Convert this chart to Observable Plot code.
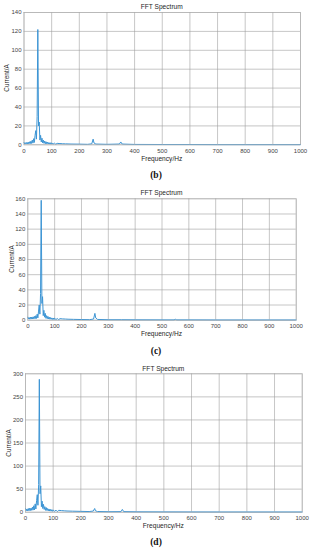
<!DOCTYPE html>
<html><head><meta charset="utf-8">
<script src="https://cdn.jsdelivr.net/npm/d3@7"></script>
<script src="https://cdn.jsdelivr.net/npm/@observablehq/plot@0.6"></script>
<style>
html,body{margin:0;padding:0;background:#fff;}
#root{position:relative;width:312px;height:550px;overflow:hidden;font-family:"Liberation Sans",Arial,sans-serif;}
.lbl{position:absolute;white-space:nowrap;color:#262626;line-height:1;}
.t{font-size:6.6px;transform:translate(-50%,-50%);}
.yl{font-size:6.4px;transform:translate(-50%,-50%) rotate(-90deg);}
.pl{font-family:"Liberation Serif","DejaVu Serif",serif;font-weight:bold;font-size:9.5px;transform:translate(-50%,-50%);color:#111;}
.panel{position:absolute;left:0;}
</style></head>
<body><div id="root"></div>
<script>
const titleText = "FFT Spectrum";
const xLabel = "Frequency/Hz";
const yLabel = "Current/A";
const panelLabels = ["(b)", "(c)", "(d)"];
const xTicks = [0,100,200,300,400,500,600,700,800,900,1000];
const yTicksB = [0,20,40,60,80,100,120,140];
const yTicksC = [0,20,40,60,80,100,120,140,160];
const yTicksD = [0,50,100,150,200,250,300];

const freqB = [0,2.5,5,7.5,10,12.5,15,17.5,20,22.5,25,27.5,30,32.5,35,37.5,40,42.5,45,47.5,50,52.5,55,57.5,60,62.5,65,67.5,70,72.5,75,77.5,80,82.5,85,87.5,90,92.5,95,97.5,100,105,110,115,120,130,140,150,170,200,230,245,250,253,260,300,345,350,355,400,500,600,700,800,900,1000];
const ampB  = [2.5,0.8,2.2,0.9,2.5,1,2.8,1,3.2,1.2,3.8,1.4,5,1.8,6.5,2.5,10,15,6,30,122,20,24,5,10,3,7,2,5,1.5,4,1.2,3.2,1,2.8,0.9,2.4,0.8,2.2,0.7,2,0.7,1.7,0.6,1.5,1.3,1.1,1,0.8,0.7,0.5,1,6,2,0.8,0.5,0.8,3,0.8,0.4,0.3,0.3,0.2,0.2,0.2,0.2];

const freqC = [0,2.5,5,7.5,10,12.5,15,17.5,20,22.5,25,27.5,30,32.5,35,37.5,40,42.5,45,47.5,50,52.5,55,57.5,60,62.5,65,67.5,70,72.5,75,77.5,80,82.5,85,87.5,90,92.5,95,97.5,100,105,110,115,120,130,140,150,170,200,230,245,250,253,260,300,350,400,500,545,550,555,600,700,800,900,1000];
const ampC  = [4,1.5,3.5,1.3,4,1.5,4.2,1.6,4.5,1.8,5,2,6,2.3,8,3,12,20,8,35,158,22,31,6,13,4,9,2.5,6,2,5,1.6,4,1.3,3.5,1.2,3,1,2.8,0.9,2.6,0.9,2.2,0.8,2,1.7,1.5,1.3,1.1,0.9,0.7,1.5,9,3,1,0.6,0.6,0.5,0.4,0.4,1.2,0.4,0.4,0.3,0.3,0.3,0.3];

const freqD = [0,2.5,5,7.5,10,12.5,15,17.5,20,22.5,25,27.5,30,32.5,35,37.5,40,42.5,45,47.5,50,52.5,55,57.5,60,62.5,65,67.5,70,72.5,75,77.5,80,82.5,85,87.5,90,92.5,95,97.5,100,105,110,115,120,130,140,150,170,200,230,245,250,253,260,300,345,350,355,400,500,600,700,800,900,1000];
const ampD  = [8,3,7,3,8,3,8.5,3.5,9,4,11,4.5,14,5,18,7,25,38,15,60,288,40,57,12,24,8,17,6,12,4,10,3.5,8,3,7,2.5,6,2.2,5.5,2,5,1.8,4.5,1.5,4,3.5,3,2.6,2.2,1.8,1.4,2.5,8,3,1.5,1,1.2,6,1.2,0.8,0.6,0.5,0.4,0.4,0.4,0.4];

const root = document.getElementById("root");
function addLabel(cls, text, x, y){
  const d = document.createElement("div");
  d.className = "lbl " + cls; d.textContent = text;
  d.style.left = x + "px"; d.style.top = y + "px";
  root.appendChild(d);
}

const panels = [
  {freq:freqB, amp:ampB, yTicks:yTicksB, ymax:140, top:0, h:168, l:23.5, r:300, pt:12, pb:144.3, titleY:6.5, xlY:158.5, ylX:7, plY:176},
  {freq:freqC, amp:ampC, yTicks:yTicksC, ymax:160, top:186, h:165, l:27.3, r:295.7, pt:198.3, pb:319.7, titleY:193, xlY:333.5, ylX:11.5, plY:352},
  {freq:freqD, amp:ampD, yTicks:yTicksD, ymax:300, top:362, h:172, l:25, r:301.7, pt:373.3, pb:511.7, titleY:368.5, xlY:525.5, ylX:8.5, plY:543}
];

panels.forEach((p, i) => {
  const data = p.freq.map((f, k) => ({f, a: p.amp[k]}));
  const chart = Plot.plot({
    width: 312, height: p.h,
    marginLeft: p.l, marginRight: 312 - p.r,
    marginTop: p.pt - p.top, marginBottom: p.h - (p.pb - p.top),
    style: {background: "transparent", fontFamily: "Liberation Sans, Arial, sans-serif", fontSize: "6px", color: "#333", overflow: "visible"},
    x: {domain: [0, 1000], ticks: xTicks, label: null},
    y: {domain: [0, p.ymax], ticks: p.yTicks, label: null},
    marks: [
      Plot.gridX(xTicks, {stroke: "#f1f1f1", strokeOpacity: 1, strokeWidth: 0.6}),
      Plot.gridY(p.yTicks, {stroke: "#f1f1f1", strokeOpacity: 1, strokeWidth: 0.6}),
      Plot.axisX({ticks: xTicks, tickFormat: d => String(d), tickSize: 0, tickPadding: 4, fill: "#444", label: null}),
      Plot.axisY({ticks: p.yTicks, tickFormat: d => String(d), tickSize: 0, tickPadding: 2.5, fill: "#444", label: null}),
      Plot.tickX(xTicks, {x: d => d, y1: p.ymax, y2: p.ymax * 0.985, stroke: "#999", strokeWidth: 0.5}),
      Plot.tickY(p.yTicks, {y: d => d, x1: 1000, x2: 990, stroke: "#999", strokeWidth: 0.5}),
      Plot.line(data, {x: "f", y: "a", stroke: "#3b94d4", strokeWidth: 1}),
      Plot.frame({stroke: "#b0b0b0", strokeWidth: 0.6})
    ]
  });
  chart.classList.add("panel");
  chart.style.position = "absolute";
  chart.style.top = p.top + "px";
  chart.style.left = "0px";
  root.appendChild(chart);
  const cx = (p.l + p.r) / 2;
  addLabel("t", titleText, cx, p.titleY);
  addLabel("t", xLabel, cx, p.xlY);
  addLabel("yl", yLabel, p.ylX, (p.pt + p.pb) / 2);
  addLabel("pl", panelLabels[i], 156, p.plY);
});
</script></body></html>
